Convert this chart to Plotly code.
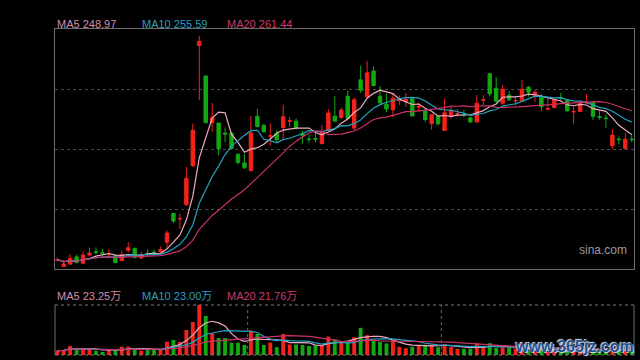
import plotly.graph_objects as go
import pandas as pd

# ---------------- data ----------------
opens = [180.86, 177.35, 178.70, 182.48, 179.08, 183.56, 185.34, 184.80, 183.78, 183.18,
         180.48, 186.10, 187.18, 181.94, 184.48, 185.18, 185.34, 190.42, 206.08, 203.00,
         210.83, 231.78, 296.69, 280.22, 255.11, 254.84, 249.44, 249.33, 237.99, 233.24,
         229.08, 258.51, 253.65, 247.71, 249.17, 252.41, 255.76, 255.81, 249.17, 246.20,
         246.42, 243.66, 251.06, 258.51, 257.81, 269.31, 252.14, 278.17, 268.99, 282.92,
         269.31, 264.94, 261.97, 266.83, 266.34, 267.91, 263.37, 261.59, 254.57, 258.51,
         250.79, 258.35, 259.70, 259.54, 257.65, 255.49, 267.15, 281.41, 273.63, 265.53,
         269.85, 266.72, 266.83, 274.17, 269.69, 268.99, 262.29, 263.21, 268.61, 267.53,
         260.78, 261.05, 265.64, 266.07, 258.24, 257.54, 242.58, 246.20, 241.02, 246.20]

highs = [182.10, 180.86, 184.10, 183.72, 185.34, 187.50, 187.72, 186.80, 186.80, 183.72,
         185.88, 190.42, 187.34, 185.34, 186.64, 186.53, 187.88, 196.79, 206.24, 205.97,
         231.08, 254.57, 301.98, 280.38, 265.64, 254.84, 252.41, 249.98, 238.37, 237.94,
         258.51, 262.51, 254.03, 254.57, 250.90, 264.67, 258.08, 257.38, 250.79, 248.36,
         249.44, 253.76, 262.40, 269.31, 263.10, 272.23, 268.77, 285.73, 288.43, 285.35,
         274.71, 270.66, 271.04, 269.58, 271.04, 268.07, 265.91, 262.67, 259.54, 258.89,
         267.91, 263.91, 262.40, 261.86, 258.35, 269.85, 269.80, 281.68, 279.57, 275.20,
         272.28, 268.88, 278.17, 274.71, 272.39, 270.50, 268.23, 267.80, 271.04, 267.80,
         263.75, 267.10, 270.34, 266.45, 261.32, 259.54, 251.60, 247.66, 249.44, 248.74]

lows = [179.94, 177.08, 178.16, 179.08, 178.54, 182.86, 184.10, 183.18, 181.78, 179.24,
        180.32, 184.91, 181.94, 181.40, 182.48, 183.18, 184.64, 187.61, 200.84, 197.60,
        210.02, 231.08, 267.26, 254.84, 249.98, 237.29, 244.42, 240.80, 232.54, 230.00,
        228.92, 252.30, 249.82, 242.58, 244.42, 246.20, 252.68, 251.22, 243.66, 244.04,
        244.42, 243.34, 250.79, 255.22, 257.00, 257.00, 251.06, 271.15, 268.61, 274.66,
        265.21, 260.62, 257.81, 264.56, 263.48, 258.46, 260.94, 255.54, 251.17, 253.38,
        250.52, 257.00, 258.46, 258.08, 254.68, 254.68, 264.40, 269.31, 265.80, 264.72,
        266.56, 264.29, 266.29, 269.04, 266.45, 261.32, 261.86, 262.78, 266.72, 261.05,
        254.57, 260.62, 265.10, 256.46, 256.62, 252.30, 240.80, 243.34, 240.80, 244.42]

closes = [181.13, 178.70, 181.78, 179.62, 183.56, 184.64, 185.02, 184.48, 184.10, 179.40,
          183.72, 187.50, 182.10, 183.72, 184.10, 184.86, 186.42, 195.44, 201.92, 203.27,
          224.98, 250.90, 298.96, 255.00, 257.65, 241.02, 248.90, 241.02, 233.51, 230.70,
          249.44, 252.95, 250.14, 247.98, 245.93, 258.19, 256.03, 252.25, 248.09, 245.88,
          246.09, 249.71, 260.24, 255.92, 261.86, 257.27, 267.37, 272.55, 281.95, 275.09,
          265.75, 262.40, 268.23, 267.10, 267.80, 258.62, 263.64, 256.73, 259.27, 254.41,
          260.35, 261.43, 259.97, 259.21, 255.49, 265.53, 267.42, 270.61, 266.61, 273.09,
          267.37, 266.99, 273.09, 271.47, 271.58, 263.75, 262.56, 267.53, 268.23, 261.43,
          261.05, 266.07, 266.02, 258.46, 257.92, 257.22, 248.36, 245.88, 246.09, 245.88]

# volume in 万
volumes = [20.0, 23.3, 41.9, 23.3, 32.6, 26.5, 20.0, 14.0, 23.3, 23.3,
           38.6, 38.6, 26.5, 20.0, 26.5, 26.5, 26.5, 61.8, 69.8, 60.5,
           116.3, 153.5, 232.5, 181.4, 100.9, 79.1, 79.1, 57.2, 57.2, 46.5,
           113.9, 97.7, 46.5, 58.1, 36.3, 97.7, 48.8, 48.8, 46.5, 41.9,
           44.2, 44.2, 86.0, 73.5, 55.8, 65.1, 82.8, 126.5, 92.1, 69.8,
           60.5, 53.5, 68.8, 38.1, 31.6, 38.1, 45.6, 47.4, 47.4, 36.3,
           50.2, 36.3, 28.8, 28.8, 28.8, 54.9, 33.5, 54.9, 33.5, 36.3,
           36.3, 30.2, 20.9, 18.6, 16.3, 20.9, 14.0, 18.6, 14.0, 16.3,
           30.0, 18.6, 20.9, 27.9, 16.3, 18.6, 30.2, 18.6, 25.6, 23.3]

price_ma_labels = ["MA5 248.97", "MA10 255.59", "MA20 261.44"]
volume_ma_labels = ["MA5 23.25万", "MA10 23.00万", "MA20 21.76万"]
month_breaks = [29.5, 59.5]
ma_windows = [5, 10, 20]

# ---------------- styling ----------------
W, H = 640, 360
RED = "#f5221c"
GREEN = "#12a812"
MA_LINE_COLORS = ["#eeaac0", "#22a3c4", "#c8326a"]
MA_TEXT_COLORS = ["#d88aa6", "#2a9fc0", "#cc3a6c"]
BORDER = "#6c6c6c"
GRID = "#4a4a4a"

x = list(range(len(closes)))
close_s = pd.Series(closes)
vol_s = pd.Series(volumes)
bar_colors = [RED if c >= o else GREEN for o, c in zip(opens, closes)]

def px_x(p):
    return p / W

def px_y(p):
    return 1 - p / H

XD = [px_x(55), px_x(634)]
MAIN_D = [px_y(269), px_y(29)]
VOL_D = [px_y(355), px_y(305)]

fig = go.Figure()

fig.add_trace(go.Candlestick(
    x=x, open=opens, high=highs, low=lows, close=closes,
    increasing=dict(line=dict(color=RED, width=1), fillcolor=RED),
    decreasing=dict(line=dict(color=GREEN, width=1), fillcolor=GREEN),
    whiskerwidth=0, xaxis="x", yaxis="y", showlegend=False, hoverinfo="skip",
))

for w, col in zip(ma_windows, MA_LINE_COLORS):
    fig.add_trace(go.Scatter(
        x=x, y=close_s.rolling(w, min_periods=1).mean(), mode="lines",
        line=dict(color=col, width=1.2), xaxis="x", yaxis="y",
        showlegend=False, hoverinfo="skip",
    ))

fig.add_trace(go.Bar(
    x=x, y=volumes, marker=dict(color=bar_colors, line=dict(width=0)),
    width=0.6, xaxis="x2", yaxis="y2", showlegend=False, hoverinfo="skip",
))

for w, col in zip(ma_windows, MA_LINE_COLORS):
    fig.add_trace(go.Scatter(
        x=x, y=vol_s.rolling(w, min_periods=1).mean(), mode="lines",
        line=dict(color=col, width=1.2), xaxis="x2", yaxis="y2",
        showlegend=False, hoverinfo="skip",
    ))

xr = [-0.35, len(closes) - 1 + 0.35]
yr = [176, 305.6]
grid_vals = [yr[0] + (yr[1] - yr[0]) * k / 4 for k in (1, 2, 3)]

shapes = []
# volume panel border: solid sides, dotted top/bottom
for xx in XD:
    shapes.append(dict(type="line", xref="paper", yref="paper", x0=xx, x1=xx,
                       y0=VOL_D[0], y1=VOL_D[1], line=dict(color=BORDER, width=1)))
for yy in VOL_D:
    shapes.append(dict(type="line", xref="paper", yref="paper", x0=XD[0], x1=XD[1],
                       y0=yy, y1=yy, line=dict(color="#7a7a7a", width=1, dash="dot")))
for mb in month_breaks:
    shapes.append(dict(type="line", xref="x2", yref="paper", x0=mb, x1=mb,
                       y0=VOL_D[0], y1=VOL_D[1], line=dict(color="#6a6a6a", width=1, dash="dot")))

annotations = []
label_x = [55, 140, 225]
for txt, col, lx in zip(price_ma_labels, MA_TEXT_COLORS, label_x):
    annotations.append(dict(text=txt, x=px_x(lx), y=px_y(24), xref="paper", yref="paper",
                            xanchor="left", yanchor="middle", showarrow=False,
                            font=dict(family="Liberation Sans, Arial", size=11, color=col)))
for txt, col, lx in zip(volume_ma_labels, MA_TEXT_COLORS, label_x):
    annotations.append(dict(text=txt, x=px_x(lx), y=px_y(295.5), xref="paper", yref="paper",
                            xanchor="left", yanchor="middle", showarrow=False,
                            font=dict(family="Liberation Sans, Arial, Noto Sans CJK SC", size=11, color=col)))
annotations.append(dict(text="sina.com", x=px_x(602.5), y=px_y(249.5), xref="paper", yref="paper",
                        xanchor="center", yanchor="middle", showarrow=False,
                        font=dict(family="Liberation Sans, Arial", size=12, color="#9a9a9a")))
annotations.append(dict(text="<b>www.365jz.com</b>", x=px_x(574), y=px_y(346), xref="paper", yref="paper",
                        xanchor="center", yanchor="middle", showarrow=False,
                        font=dict(family="Liberation Sans, Arial", size=16, color="#24508f",
                                  shadow="1px 1px 1px #d8e4f4, -1px -1px 1px #d8e4f4")))

fig.update_layout(
    width=W, height=H, autosize=False,
    margin=dict(l=0, r=0, t=0, b=0, pad=0),
    paper_bgcolor="#000000", plot_bgcolor="#000000",
    boxgap=0.25,
    xaxis=dict(domain=XD, range=xr, anchor="y", showgrid=False, zeroline=False,
               showticklabels=False, ticks="", showline=True, mirror=True,
               linecolor=BORDER, linewidth=1, rangeslider=dict(visible=False), fixedrange=True),
    yaxis=dict(domain=MAIN_D, range=yr, anchor="x", tickvals=grid_vals, showticklabels=False,
               ticks="", showgrid=True, gridcolor=GRID, griddash="dot", gridwidth=1,
               zeroline=False, showline=True, mirror=True, linecolor=BORDER, linewidth=1,
               fixedrange=True),
    xaxis2=dict(domain=XD, range=xr, anchor="y2", showgrid=False, zeroline=False,
                showticklabels=False, ticks="", showline=False, fixedrange=True),
    yaxis2=dict(domain=VOL_D, range=[0, max(volumes)], anchor="x2", showgrid=False,
                zeroline=False, showticklabels=False, ticks="", showline=False, fixedrange=True),
    shapes=shapes, annotations=annotations,
    bargap=0.4, hovermode=False,
)

fig.write_html(
    "out.html",
    config=dict(displayModeBar=False),
    post_script="document.body.style.margin='0px';document.body.style.overflow='hidden';document.body.style.background='#000';",
)
